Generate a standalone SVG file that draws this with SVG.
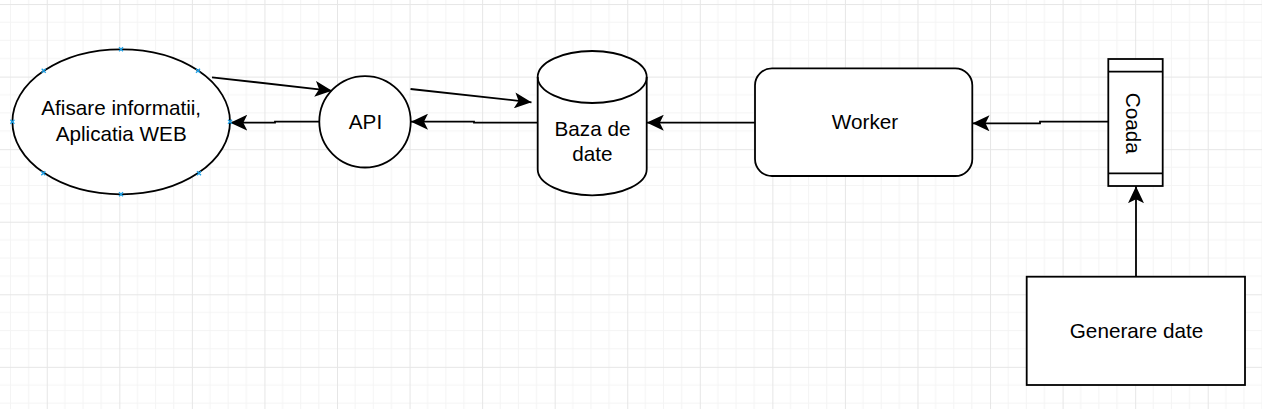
<svg xmlns="http://www.w3.org/2000/svg" width="1262" height="409" viewBox="0 0 1262 409">
  <style>
    .shape { fill: #ffffff; stroke: #000000; stroke-width: 1.8; }
    .edge { fill: none; stroke: #000000; stroke-width: 1.8; }
    .lbl { font-family: "Liberation Sans", Arial, sans-serif; font-size: 20.7px; fill: #000000; text-anchor: middle; }
    .cp { stroke: #1ea0e6; stroke-width: 1.3; fill: none; }
    .minor { stroke: #f4f4f4; stroke-width: 1; }
    .major { stroke: #e6e6e6; stroke-width: 1; }
  </style>
  <defs>
    <pattern id="grid" patternUnits="userSpaceOnUse" x="46.75" y="4.05" width="72.56" height="72.56">
      <line class="minor" x1="18.14" y1="0" x2="18.14" y2="72.56"/>
      <line class="minor" x1="36.28" y1="0" x2="36.28" y2="72.56"/>
      <line class="minor" x1="54.42" y1="0" x2="54.42" y2="72.56"/>
      <line class="minor" x1="0" y1="18.14" x2="72.56" y2="18.14"/>
      <line class="minor" x1="0" y1="36.28" x2="72.56" y2="36.28"/>
      <line class="minor" x1="0" y1="54.42" x2="72.56" y2="54.42"/>
      <line class="major" x1="0.5" y1="0" x2="0.5" y2="72.56"/>
      <line class="major" x1="0" y1="0.5" x2="72.56" y2="0.5"/>
    </pattern>
    <marker id="arrow" markerUnits="userSpaceOnUse" viewBox="0 0 17 16" markerWidth="17" markerHeight="16" refX="17" refY="8" orient="auto">
      <path d="M0,0 L17,8 L0,16 L4,8 Z" fill="#000000" stroke="none"/>
    </marker>
  </defs>

  <rect x="0" y="0" width="1262" height="409" fill="#ffffff"/>
  <rect x="0" y="0" width="1262" height="409" fill="url(#grid)"/>

  <g id="connectors">
    <path class="edge" d="M212,77.3 L332,90.8" marker-end="url(#arrow)"/>
    <path class="edge" d="M319.3,121.7 H275 V122.7 H230.3" marker-end="url(#arrow)"/>
    <path class="edge" d="M410.5,89 L531.5,102.3" marker-end="url(#arrow)"/>
    <path class="edge" d="M537.7,122.7 H474 V121.7 H411" marker-end="url(#arrow)"/>
    <path class="edge" d="M755,122.7 H646.8" marker-end="url(#arrow)"/>
    <path class="edge" d="M1108.3,121.7 H1040 V123.3 H972.5" marker-end="url(#arrow)"/>
    <path class="edge" d="M1136,276.7 V186.2" marker-end="url(#arrow)"/>
  </g>

  <g id="node-web">
    <ellipse class="shape" cx="121.2" cy="121.8" rx="108.8" ry="72.5"/>
    <text class="lbl" x="121.2" y="115">Afisare informatii,</text>
    <text class="lbl" x="121.2" y="140.7">Aplicatia WEB</text>
    <g class="cp">
      <path d="M119,47.3 l4,4 m0,-4 l-4,4"/>
      <path d="M119,192.3 l4,4 m0,-4 l-4,4"/>
      <path d="M10.4,119.8 l4,4 m0,-4 l-4,4"/>
      <path d="M228,119.8 l4,4 m0,-4 l-4,4"/>
      <path d="M41.7,68.7 l4,4 m0,-4 l-4,4"/>
      <path d="M196,68.7 l4,4 m0,-4 l-4,4"/>
      <path d="M41.3,171.3 l4,4 m0,-4 l-4,4"/>
      <path d="M197,171.3 l4,4 m0,-4 l-4,4"/>
    </g>
  </g>

  <g id="node-api">
    <circle class="shape" cx="365" cy="121.8" r="45.7"/>
    <text class="lbl" x="365.5" y="129.3">API</text>
  </g>

  <g id="node-db">
    <path class="shape" d="M537.7,77 A54.5,26 0 0 1 646.7,77 V169.3 A54.5,26 0 0 1 537.7,169.3 Z"/>
    <path class="edge" d="M537.7,77 A54.5,26 0 0 0 646.7,77"/>
    <text class="lbl" x="592.5" y="135.7">Baza de</text>
    <text class="lbl" x="592.5" y="160.7">date</text>
  </g>

  <g id="node-worker">
    <rect class="shape" x="755" y="68.3" width="217.3" height="107.7" rx="17" ry="17"/>
    <text class="lbl" x="865" y="128.7">Worker</text>
  </g>

  <g id="node-coada">
    <rect class="shape" x="1108.3" y="59" width="54.4" height="127"/>
    <line class="edge" x1="1108.3" y1="71.7" x2="1162.7" y2="71.7"/>
    <line class="edge" x1="1108.3" y1="173.3" x2="1162.7" y2="173.3"/>
    <text class="lbl" transform="translate(1133,123.3) rotate(90)" x="0" y="7.4">Coada</text>
  </g>

  <g id="node-generare">
    <rect class="shape" x="1026.7" y="276.7" width="218.3" height="108.3"/>
    <text class="lbl" x="1136.5" y="337.7">Generare date</text>
  </g>
</svg>
